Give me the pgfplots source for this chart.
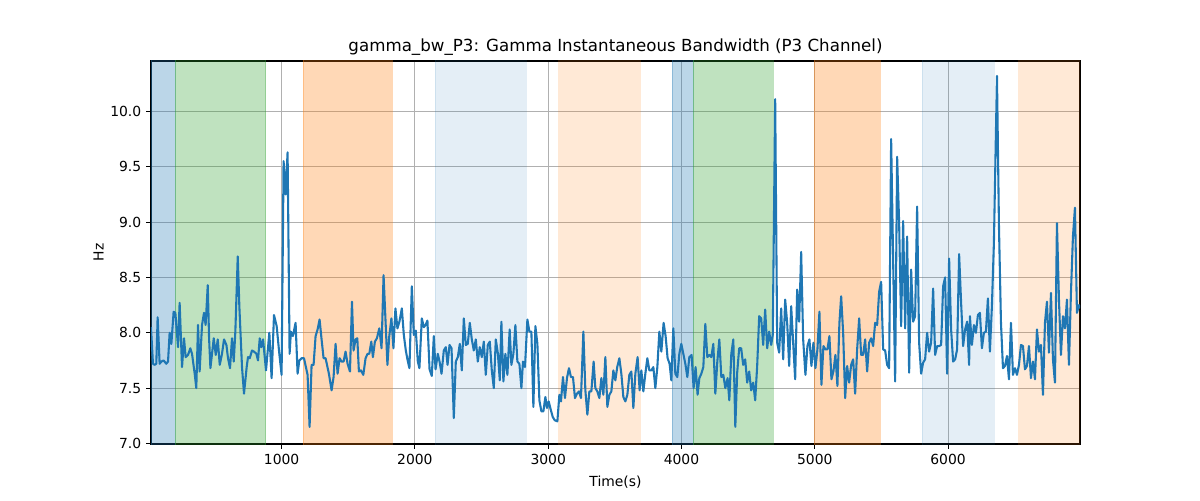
\documentclass[border=0pt]{standalone}
\usepackage{pgfplots}
\pgfplotsset{compat=1.18}
\usepackage{fontspec}
\setmainfont{DejaVu Sans}
\definecolor{tabblue}{HTML}{1F77B4}
\definecolor{tabgreen}{HTML}{2CA02C}
\definecolor{taborange}{HTML}{FF7F0E}
\definecolor{gridgray}{HTML}{B0B0B0}
\begin{document}
\begin{tikzpicture}
\useasboundingbox (-108.7pt,-40.3pt) rectangle (755.3pt,319.7pt);
\begin{axis}[
  scale only axis,
  width=668.9pt, height=275.8pt,
  xmin=20, xmax=6990, ymin=6.995, ymax=10.455,
  xtick={1000,2000,3000,4000,5000,6000},
  ytick={7.0,7.5,8.0,8.5,9.0,9.5,10.0},
  /pgf/number format/assume math mode=true,
  xticklabel style={/pgf/number format/1000 sep={}},
  yticklabel style={/pgf/number format/.cd, fixed, fixed zerofill, precision=1},
  tick align=outside, tick pos=left,
  major tick length=3.5pt,
  every tick/.style={black, line width=0.8pt},
  axis line style={line width=0.8pt},
  grid=major,
  grid style={gridgray, line width=0.8pt},
  title={\fontsize{12}{14}\selectfont gamma\_bw\_P3: Gamma Instantaneous Bandwidth (P3 Channel)},
  title style={yshift=-5.6pt},
  xlabel={Time(s)}, ylabel={Hz},
  xlabel style={yshift=-1.5pt},
  ylabel style={yshift=-2pt},
  ticklabel style={font=\fontsize{10}{12}\selectfont},
]
% shaded spans
\addplot[draw=tabblue, draw opacity=0.3, fill=tabblue, fill opacity=0.3] coordinates {(20,6) (20,11) (200,11) (200,6)} -- cycle;
\addplot[draw=tabgreen, draw opacity=0.3, fill=tabgreen, fill opacity=0.3] coordinates {(200,6) (200,11) (880,11) (880,6)} -- cycle;
\addplot[draw=taborange, draw opacity=0.3, fill=taborange, fill opacity=0.3] coordinates {(1160,6) (1160,11) (1832,11) (1832,6)} -- cycle;
\addplot[draw=tabblue, draw opacity=0.12, fill=tabblue, fill opacity=0.12] coordinates {(2151,6) (2151,11) (2837,11) (2837,6)} -- cycle;
\addplot[draw=taborange, draw opacity=0.17, fill=taborange, fill opacity=0.17] coordinates {(3079,6) (3079,11) (3691,11) (3691,6)} -- cycle;
\addplot[draw=tabblue, draw opacity=0.3, fill=tabblue, fill opacity=0.3] coordinates {(3931,6) (3931,11) (4085,11) (4085,6)} -- cycle;
\addplot[draw=tabgreen, draw opacity=0.3, fill=tabgreen, fill opacity=0.3] coordinates {(4085,6) (4085,11) (4688,11) (4688,6)} -- cycle;
\addplot[draw=taborange, draw opacity=0.3, fill=taborange, fill opacity=0.3] coordinates {(4993,6) (4993,11) (5490,11) (5490,6)} -- cycle;
\addplot[draw=tabblue, draw opacity=0.12, fill=tabblue, fill opacity=0.12] coordinates {(5807,6) (5807,11) (6345,11) (6345,6)} -- cycle;
\addplot[draw=taborange, draw opacity=0.17, fill=taborange, fill opacity=0.17] coordinates {(6529,6) (6529,11) (7000,11) (7000,6)} -- cycle;
% signal
\addplot[tabblue, line width=1.5pt, line join=round, mark=none] table {
x y
20 8.05
35 7.72
48 7.71
60 7.72
70 8.14
85 7.72
98 7.74
115 7.75
135 7.72
148 7.74
160 8.00
173 7.90
190 8.19
203 8.18
223 7.87
235 8.27
253 7.69
268 7.95
280 7.78
298 7.80
315 7.86
328 7.81
348 7.63
360 7.50
373 8.07
385 7.65
403 8.07
418 8.18
430 8.07
446 8.43
456 7.95
466 7.68
491 7.95
506 7.80
521 7.94
536 7.71
553 7.81
568 7.94
586 7.89
598 7.77
613 7.68
628 7.95
641 7.74
653 8.01
671 8.69
683 8.24
703 7.69
718 7.45
738 7.69
748 7.78
761 7.77
778 7.84
793 7.83
811 7.81
823 7.75
836 7.95
848 7.87
861 7.94
883 7.66
908 8.00
925 7.59
943 8.16
963 8.06
983 7.81
1000 7.62
1015 9.55
1030 9.25
1045 9.63
1060 7.81
1070 8.01
1085 7.97
1105 8.09
1120 7.63
1133 7.75
1150 7.77
1168 7.77
1195 7.62
1210 7.15
1225 7.71
1240 7.71
1255 7.97
1270 8.03
1285 8.12
1300 7.94
1315 7.77
1330 7.77
1355 7.63
1375 7.48
1390 7.60
1405 7.90
1420 7.63
1435 7.77
1450 7.74
1465 7.74
1480 7.83
1495 7.72
1513 7.65
1528 8.28
1540 7.84
1555 7.94
1568 7.95
1580 7.65
1595 7.66
1613 7.62
1630 7.77
1645 7.81
1658 7.81
1673 7.92
1685 7.78
1700 7.92
1715 7.95
1733 8.04
1750 7.86
1765 8.52
1794 7.71
1807 7.96
1824 8.13
1839 7.86
1854 8.22
1869 8.04
1884 8.10
1902 8.22
1917 7.98
1932 7.84
1944 7.76
1959 7.68
1977 8.42
1992 7.98
2007 8.02
2022 7.74
2034 7.68
2052 8.13
2067 8.05
2080 8.07
2094 8.11
2110 7.67
2127 7.61
2142 7.97
2155 7.67
2172 7.81
2185 7.74
2200 7.63
2217 7.84
2232 7.87
2245 7.71
2260 7.89
2275 7.86
2292 7.23
2307 7.74
2322 7.78
2337 7.90
2352 7.66
2367 8.13
2382 7.89
2397 7.90
2412 8.09
2427 7.94
2442 7.84
2457 7.94
2472 7.74
2487 7.87
2502 7.78
2517 7.92
2532 7.62
2547 7.89
2562 7.92
2577 7.66
2592 7.50
2607 7.94
2622 7.82
2637 7.57
2649 8.10
2664 7.56
2679 7.81
2694 7.62
2711 8.03
2724 7.71
2739 7.81
2754 8.07
2769 7.74
2784 7.72
2799 7.50
2811 7.74
2826 7.69
2844 8.12
2859 8.01
2874 8.01
2889 7.33
2904 8.06
2919 7.90
2934 7.39
2949 7.29
2964 7.29
2979 7.42
2991 7.32
3004 7.38
3016 7.32
3034 7.24
3049 7.21
3069 7.20
3084 7.44
3096 7.38
3111 7.60
3126 7.41
3141 7.59
3156 7.68
3171 7.60
3186 7.60
3201 7.41
3216 7.45
3231 7.47
3246 7.41
3264 8.01
3279 7.48
3294 7.26
3309 7.47
3324 7.47
3341 7.74
3354 7.50
3369 7.47
3384 7.41
3399 7.59
3414 7.44
3429 7.78
3444 7.33
3459 7.44
3474 7.47
3489 7.66
3504 7.57
3518 7.69
3534 7.77
3549 7.63
3564 7.42
3579 7.38
3594 7.44
3609 7.62
3624 7.65
3639 7.32
3654 7.63
3671 7.78
3686 7.48
3699 7.66
3714 7.47
3729 7.63
3744 7.77
3759 7.66
3774 7.66
3789 7.69
3804 7.50
3819 7.69
3834 8.01
3849 7.83
3866 8.09
3881 7.97
3896 7.77
3911 7.72
3924 7.57
3939 8.04
3954 7.63
3969 7.60
3984 7.81
3999 7.90
4014 7.81
4029 7.72
4044 7.60
4059 7.78
4076 7.80
4091 7.50
4106 7.69
4121 7.44
4134 7.59
4149 7.63
4164 7.69
4179 8.08
4194 7.78
4209 7.80
4224 7.78
4239 7.90
4254 7.45
4269 7.74
4284 7.94
4299 7.60
4314 7.62
4329 7.50
4346 7.59
4359 7.39
4374 7.81
4389 7.94
4404 7.15
4418 7.64
4433 7.86
4448 7.86
4463 7.71
4478 7.76
4493 7.55
4508 7.65
4523 7.48
4538 7.55
4553 7.39
4568 7.70
4583 8.15
4598 8.13
4613 7.89
4628 8.21
4643 7.86
4658 8.01
4673 7.89
4685 7.98
4703 10.11
4718 7.91
4733 7.82
4748 8.22
4763 7.76
4778 8.30
4793 8.09
4808 7.70
4823 8.24
4838 7.91
4853 7.58
4868 8.39
4883 8.10
4898 8.73
4913 7.94
4930 7.62
4945 7.88
4960 7.94
4975 7.70
4990 7.91
5005 7.68
5020 7.85
5035 8.19
5050 7.53
5065 7.88
5080 7.85
5095 7.85
5110 7.97
5125 7.58
5140 7.65
5155 7.80
5170 7.52
5185 8.09
5198 8.33
5213 8.00
5228 7.41
5243 7.70
5258 7.55
5273 7.71
5288 7.76
5303 7.45
5318 7.85
5333 8.13
5348 7.80
5363 7.80
5378 7.94
5393 7.65
5408 7.91
5423 7.95
5438 7.88
5453 8.09
5468 8.07
5483 8.37
5498 8.46
5513 7.85
5528 7.84
5543 7.71
5558 7.68
5573 9.75
5603 7.56
5618 9.59
5633 8.99
5648 8.06
5663 9.01
5678 8.04
5693 8.87
5708 7.64
5723 8.57
5738 8.10
5753 8.15
5768 9.14
5783 7.91
5798 7.63
5813 7.73
5828 7.76
5843 8.00
5858 7.83
5873 7.91
5888 8.40
5903 7.80
5918 7.88
5933 7.88
5948 7.89
5963 8.42
5978 8.50
5993 7.63
6008 8.67
6023 8.03
6038 7.74
6053 7.76
6068 7.85
6083 8.71
6098 8.27
6113 7.88
6128 8.03
6143 8.10
6158 7.71
6164 8.15
6179 7.89
6194 8.07
6209 8.00
6224 8.16
6239 8.18
6254 7.86
6269 8.00
6284 8.01
6299 8.31
6314 7.83
6329 8.24
6344 8.81
6367 10.32
6382 8.96
6397 8.09
6412 7.68
6427 7.70
6442 7.79
6457 7.58
6472 8.09
6487 7.62
6502 7.68
6517 7.62
6532 7.71
6547 7.89
6562 7.88
6577 7.67
6592 7.70
6607 7.88
6622 7.59
6637 7.74
6652 7.58
6667 8.03
6682 7.83
6697 7.89
6712 7.44
6727 8.09
6742 8.28
6757 7.82
6772 8.36
6787 7.76
6802 7.55
6817 8.99
6832 8.30
6847 7.80
6862 8.15
6877 8.04
6892 8.30
6907 7.71
6922 8.36
6937 8.87
6952 9.13
6967 8.18
6982 8.25
6990 8.22
};
\end{axis}
\end{tikzpicture}
\end{document}
